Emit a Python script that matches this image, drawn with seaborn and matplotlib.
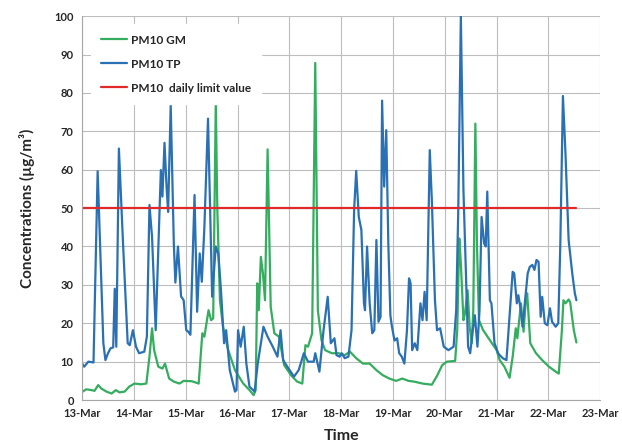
import matplotlib
matplotlib.use("Agg")
import matplotlib.pyplot as plt
import matplotlib.dates as mdates
import pandas as pd
import seaborn as sns

# time is given in days after 13-Mar 00:00
tp_days = [0.00, 0.04, 0.12, 0.22, 0.30, 0.41, 0.45, 0.50, 0.55, 0.60, 0.63, 0.66, 0.71, 0.79, 0.88,
           0.92, 0.98, 1.04, 1.10, 1.20, 1.25, 1.30, 1.35, 1.42, 1.49, 1.52, 1.55, 1.59, 1.63, 1.66,
           1.71, 1.77, 1.80, 1.85, 1.91, 1.96, 2.01, 2.05, 2.09, 2.17, 2.22, 2.27, 2.31, 2.36, 2.43,
           2.47, 2.51, 2.58, 2.63, 2.68, 2.74, 2.78, 2.85, 2.95, 2.98, 3.01, 3.06, 3.12, 3.17, 3.23,
           3.33, 3.39, 3.50, 3.58, 3.68, 3.77, 3.83, 3.88, 3.96, 4.09, 4.18, 4.28, 4.36, 4.47, 4.50,
           4.58, 4.66, 4.74, 4.80, 4.87, 4.91, 4.97, 5.01, 5.07, 5.14, 5.20, 5.25, 5.29, 5.34, 5.39,
           5.44, 5.46, 5.50, 5.55, 5.60, 5.64, 5.68, 5.72, 5.76, 5.79, 5.83, 5.87, 5.91, 5.95, 5.98,
           6.03, 6.08, 6.12, 6.17, 6.22, 6.27, 6.31, 6.34, 6.37, 6.42, 6.47, 6.53, 6.57, 6.61, 6.65,
           6.71, 6.75, 6.81, 6.85, 6.91, 6.98, 7.07, 7.17, 7.22, 7.26, 7.31, 7.36, 7.41, 7.45, 7.49,
           7.54, 7.58, 7.63, 7.67, 7.71, 7.76, 7.79, 7.82, 7.87, 7.90, 7.96, 8.03, 8.06, 8.12, 8.19,
           8.25, 8.31, 8.34, 8.39, 8.42, 8.46, 8.50, 8.55, 8.60, 8.64, 8.69, 8.73, 8.77, 8.81, 8.85,
           8.88, 8.93, 8.98, 9.03, 9.07, 9.14, 9.19, 9.23, 9.28, 9.33, 9.39, 9.46, 9.51, 9.54]
tp_values = [9.5, 8.7, 10.0, 9.8, 59.6, 14.8, 10.4, 12.2, 13.5, 13.7, 29.0, 13.9, 65.5, 40.8, 14.8,
             14.3, 18.2, 13.9, 12.2, 12.6, 16.5, 50.8, 42.5, 18.2, 47.7, 59.9, 53.0, 67.0, 55.6, 49.0,
             76.8, 40.8, 30.6, 40.0, 27.0, 26.0, 18.2, 17.8, 17.0, 53.4, 23.0, 38.2, 30.8, 45.0, 73.3,
             49.5, 26.9, 40.0, 38.0, 28.6, 14.8, 18.2, 7.8, 2.2, 2.6, 18.2, 13.9, 19.1, 9.5, 3.5,
             2.2, 9.5, 19.1, 16.5, 13.9, 11.3, 18.2, 10.4, 8.7, 6.1, 7.8, 12.2, 10.0, 10.0, 12.2,
             7.4, 18.2, 26.9, 14.8, 16.1, 11.7, 11.3, 12.2, 10.9, 11.3, 18.2, 49.5, 59.7, 47.7, 44.3,
             25.2, 23.4, 40.0, 25.2, 17.4, 18.2, 41.7, 20.4, 21.7, 78.0, 55.6, 70.3, 40.8, 22.0, 19.1,
             15.5, 16.1, 12.2, 11.3, 9.5, 18.2, 31.7, 30.4, 13.0, 14.8, 13.0, 25.2, 20.8, 28.2, 20.8,
             65.1, 52.0, 26.0, 18.2, 18.7, 13.9, 13.0, 13.9, 23.4, 49.5, 100.0, 54.7, 32.1, 13.9, 12.2,
             18.2, 22.1, 13.9, 23.4, 47.7, 40.8, 40.0, 54.3, 26.0, 25.2, 14.8, 12.2, 11.7, 10.9, 10.4,
             21.7, 33.4, 33.0, 25.2, 27.3, 24.0, 19.1, 26.0, 33.0, 34.7, 35.2, 33.9, 36.5, 36.0, 21.7,
             26.9, 20.0, 19.5, 23.9, 20.4, 19.1, 20.0, 40.8, 79.2, 64.0, 41.7, 33.0, 27.8, 26.0]

gm_days = [0.01, 0.08, 0.18, 0.24, 0.31, 0.37, 0.47, 0.57, 0.65, 0.72, 0.82, 0.91, 1.01, 1.14, 1.24,
           1.30, 1.35, 1.39, 1.47, 1.55, 1.60, 1.68, 1.77, 1.88, 1.96, 2.12, 2.25, 2.32, 2.36, 2.44,
           2.49, 2.53, 2.58, 2.61, 2.66, 2.72, 2.82, 2.95, 3.11, 3.23, 3.31, 3.35, 3.38, 3.41, 3.45,
           3.49, 3.53, 3.58, 3.64, 3.71, 3.80, 3.90, 4.03, 4.15, 4.25, 4.31, 4.36, 4.44, 4.50, 4.55,
           4.62, 4.69, 4.82, 4.95, 5.07, 5.17, 5.29, 5.42, 5.55, 5.68, 5.80, 5.93, 6.06, 6.18, 6.30,
           6.41, 6.57, 6.75, 6.85, 6.95, 7.04, 7.20, 7.24, 7.28, 7.31, 7.36, 7.39, 7.44, 7.48, 7.52,
           7.55, 7.59, 7.62, 7.66, 7.74, 7.87, 8.00, 8.06, 8.15, 8.25, 8.31, 8.37, 8.40, 8.44, 8.47,
           8.52, 8.56, 8.59, 8.65, 8.76, 8.88, 9.01, 9.14, 9.20, 9.26, 9.29, 9.33, 9.39, 9.42, 9.49,
           9.54]
gm_values = [2.2, 2.8, 2.6, 2.4, 3.9, 3.0, 2.2, 1.7, 2.6, 2.0, 2.2, 3.5, 4.3, 4.1, 4.3,
             11.3, 18.7, 13.0, 8.7, 8.2, 9.5, 5.6, 4.8, 4.3, 5.0, 4.9, 4.3, 17.4, 16.5, 23.4,
             20.8, 21.3, 77.7, 49.5, 26.0, 19.0, 13.0, 7.8, 4.3, 2.6, 1.3, 2.6, 30.4, 23.4, 37.3,
             33.0, 26.0, 65.3, 24.3, 17.4, 16.5, 9.1, 6.5, 4.8, 4.3, 14.3, 13.9, 17.4, 87.8, 23.4,
             15.6, 13.0, 12.2, 12.2, 11.7, 12.6, 10.9, 9.5, 9.5, 7.8, 6.5, 5.6, 5.0, 5.6, 5.0,
             4.8, 4.3, 4.0, 6.3, 9.1, 10.0, 10.2, 18.2, 42.1, 35.6, 20.8, 22.6, 28.6, 19.1, 14.8,
             23.4, 72.0, 40.8, 20.8, 18.2, 15.6, 13.0, 10.4, 8.7, 5.8, 11.3, 18.7, 16.1, 21.3, 25.2,
             17.8, 25.2, 27.8, 14.8, 12.2, 10.4, 8.7, 7.4, 6.9, 18.2, 26.0, 25.2, 26.2, 25.5, 18.2,
             15.0]

limit_days = [0.0, 9.54]
limit_values = [50, 50]

series_labels = ["PM10 GM", "PM10 TP", "PM10  daily limit value"]
series_colors = ["#34ad5e", "#2a70b4", "#e02a2a"]
y_ticks = list(range(0, 101, 10))

start = pd.Timestamp("2013-03-13")


def to_frame(days, values):
    return pd.DataFrame({"time": [start + pd.Timedelta(days=d) for d in days], "value": values})


def main():
    sns.set_style("whitegrid")
    plt.rcParams["font.family"] = ["Lato", "DejaVu Sans"]
    plt.rcParams["font.weight"] = "bold"

    fig = plt.figure(figsize=(6.22, 4.48), dpi=100)
    ax = fig.add_axes([0.132, 0.107, 0.833, 0.857])

    frames = [to_frame(gm_days, gm_values), to_frame(tp_days, tp_values), to_frame(limit_days, limit_values)]
    for df, label, color in zip(frames, series_labels, series_colors):
        sns.lineplot(data=df, x="time", y="value", ax=ax, color=color, linewidth=1.6,
                     estimator=None, label=label)

    ax.set_xlim(start, start + pd.Timedelta(days=10))
    ax.set_ylim(0, 100)
    ax.set_yticks(y_ticks)
    ax.xaxis.set_major_locator(mdates.DayLocator())
    ax.xaxis.set_major_formatter(mdates.DateFormatter("%d-%b"))

    ax.grid(True, color="#bdbdbd", linewidth=0.8)
    for side in ["top", "right"]:
        ax.spines[side].set_visible(False)
    for side in ["left", "bottom"]:
        ax.spines[side].set_color("#a6a6a6")
        ax.spines[side].set_linewidth(0.8)
    ax.tick_params(axis="both", length=3, color="#a6a6a6", labelsize=8, pad=3)
    for lbl in ax.get_xticklabels() + ax.get_yticklabels():
        lbl.set_fontweight("bold")

    ax.set_xlabel("Time", fontsize=11.5, fontweight="bold", labelpad=7)
    ax.set_ylabel("Concentrations (µg/m³)", fontsize=11, fontweight="bold", labelpad=14)

    leg = ax.legend(loc="upper left", bbox_to_anchor=(0.005, 0.995), frameon=True, framealpha=1,
                    edgecolor="white", fontsize=8.5, handlelength=2.2, labelspacing=1.1,
                    borderpad=0.9, handletextpad=0.3)
    for t in leg.get_texts():
        t.set_fontweight("bold")

    fig.savefig("out.png", dpi=100)


if __name__ == "__main__":
    main()
